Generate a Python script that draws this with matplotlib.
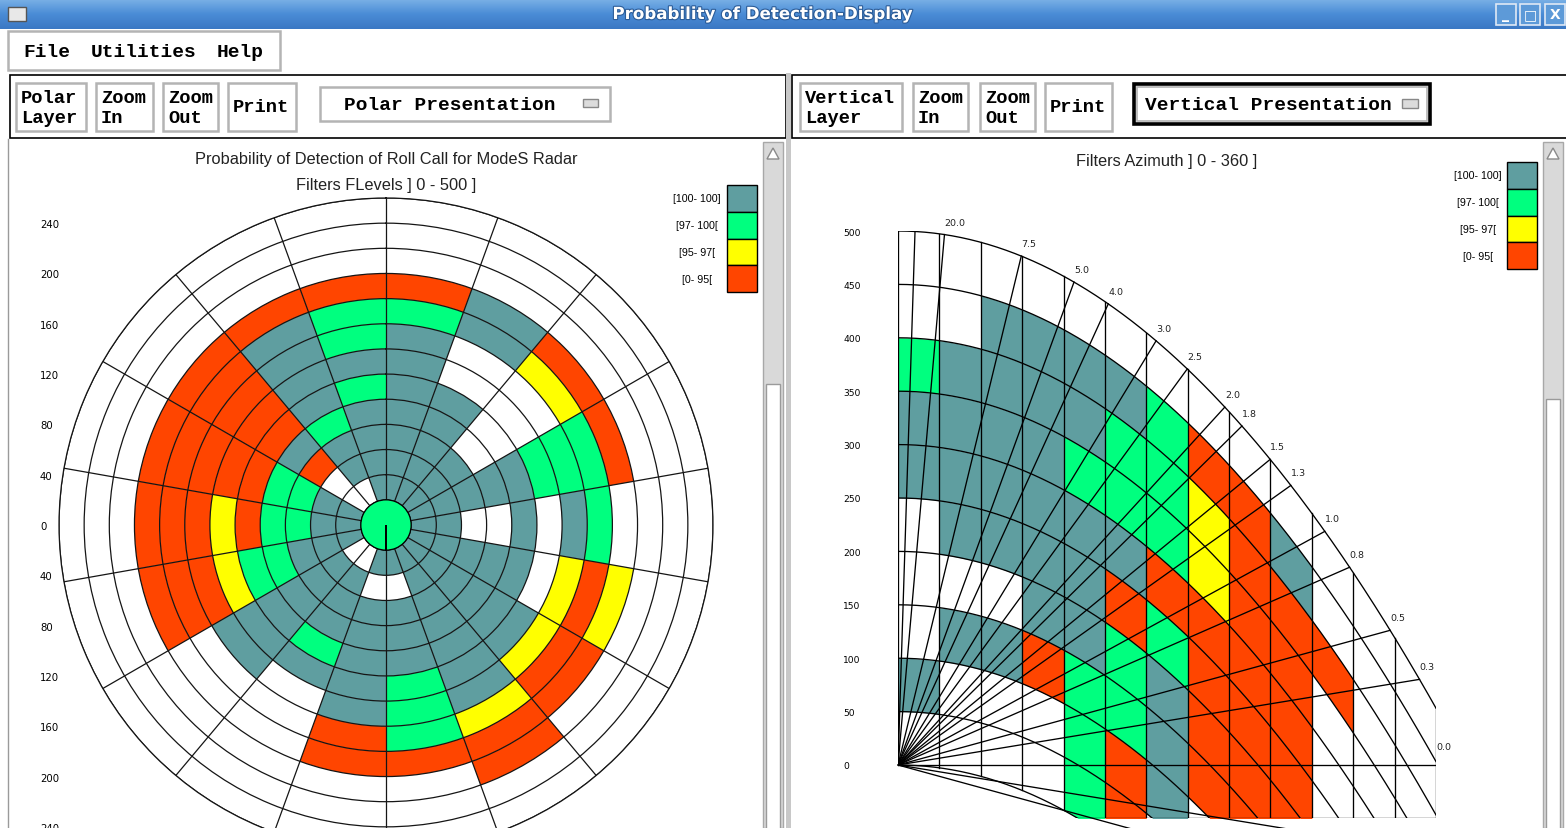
import numpy as np
import matplotlib.pyplot as plt
from matplotlib.patches import Rectangle, Polygon
from matplotlib.colors import LinearSegmentedColormap
import matplotlib.patheffects as pe

plt.rcParams['font.family'] = ['Liberation Sans', 'DejaVu Sans']

W, H = 1566, 829

# ---- data ---------------------------------------------------------------
CLASS_COLORS = {'T': '#5F9EA0', 'G': '#00FF7F', 'Y': '#FFFF00', 'R': '#FF4500'}
legend_codes = ['T', 'G', 'Y', 'R']
legend_labels = ['[100- 100]', '[97- 100[', '[95- 97[', '[0- 95[']

# polar presentation: 18 azimuth sectors (20 deg), rings of 20 NM from 20 to 260 NM
# letters: T=[100-100] G=[97-100[ Y=[95-97[ R=[0-95[ W=no value
sector_start = list(range(0, 360, 20))
ring_start = list(range(20, 260, 20))
polar_cells = [
    "TTTTTTTGRWWW",  # 0
    "TTTTTWWTTWWW",  # 20
    "TTTWWWWYRWWW",  # 40
    "TTTTTGGGRWWW",  # 60
    "TTWWTWTGWWWW",  # 80
    "TTTTTWYRYWWW",  # 100
    "TTTTTTYRRWWW",  # 120
    "TTTTTTTYRRWW",  # 140
    "TWTTTGGGRWWW",  # 160
    "TWTTTTTRRWWW",  # 180
    "WTTTGTWWWWWW",  # 200
    "WTTTTTTWWWWW",  # 220
    "TTTGGYRRRWWW",  # 240
    "TTGGRYRRRWWW",  # 260
    "TTGGRRRRRWWW",  # 280
    "WWRTRRRRRWWW",  # 300
    "WTTGTTTTRWWW",  # 320
    "TTTTGTGGRWWW",  # 340
]
center_code = 'G'
polar_tick_values = [240, 200, 160, 120, 80, 40, 0, -40, -80, -120, -160, -200, -240]

# vertical presentation: range columns of 20 NM, flight level bands of 50 (FL 0 .. 450)
range_start = list(range(0, 260, 20))
flevel_start = list(range(0, 500, 50))
vertical_cells = [
    "WTWWWTTGWW",  # 0-20
    "WWTWTTTTWW",  # 20-40
    "WWTWTTTTTW",  # 40-60
    "WWRTTTTTTW",  # 60-80
    "GGGTTTGTTW",  # 80-100
    "RRGGRTGGTW",  # 100-120
    "WTTTGRGGGW",  # 120-140
    "WWRRRRYYRW",  # 140-160
    "WWRRRRRRRW",  # 160-180
    "WWWRRRRRTW",  # 180-200
    "WWWWWWWRWW",  # 200-220
    "WWWWWWWWWW",  # 220-240
    "WWWWWWWWWW",  # 240-260
]
elevation_angles = [45.0, 20.0, 7.5, 5.0, 4.0, 3.0, 2.5, 2.0, 1.8, 1.5, 1.3, 1.0, 0.8, 0.5, 0.3, 0.0]
elevation_labels = ['', '20.0', '7.5', '5.0', '4.0', '3.0', '2.5', '2.0', '1.8', '1.5', '1.3',
                    '1.0', '0.8', '0.5', '0.3', '0.0']
flevel_ticks = list(range(0, 501, 50))

K_CURV = 1 / 151.3       # earth curvature drop (FL per NM^2, 4/3 earth)
FL_PER_NM = 60.76        # FL per NM per unit tan(elevation)
RMAX = 260


def fig_rect(x0, y0, x1, y1):
    return [x0 / W, 1 - y1 / H, (x1 - x0) / W, (y1 - y0) / H]


fig = plt.figure(figsize=(W / 100, H / 100), dpi=100, facecolor='white')

# ---- window chrome (pixel coordinates) -----------------------------------
ui = fig.add_axes([0, 0, 1, 1], zorder=0)
ui.set_xlim(0, W)
ui.set_ylim(H, 0)
ui.axis('off')

grad = np.linspace(0, 1, 30).reshape(-1, 1)
cmap = LinearSegmentedColormap.from_list('tb', ['#79b0e6', '#4a8cd6', '#3b78c4'])
ui.imshow(grad, extent=(0, W, 30, 0), aspect='auto', cmap=cmap, zorder=0)
ui.text(762, 15, 'Probability of Detection-Display', color='white', fontsize=12,
        fontweight='bold', family='DejaVu Sans', ha='center', va='center',
        path_effects=[pe.Stroke(linewidth=1.6, foreground='#2b5c98'), pe.Normal()])
ui.add_patch(Rectangle((8, 8), 18, 14, fc='#e8e8e8', ec='#555555', lw=1))
for x0, glyph in zip([1496, 1520, 1545], ['_', '\u25a1', 'X']):
    ui.add_patch(Rectangle((x0, 5), 20, 21, fc='#5d9ad8', ec='#dfe9f5', lw=1.2))
    ui.text(x0 + 10, 15, glyph, color='white', fontsize=10, fontweight='bold',
            ha='center', va='center', family='DejaVu Sans')


def raised(x0, y0, x1, y1, ec='#b4b4b4', lw=1.8):
    ui.add_patch(Rectangle((x0, y0), x1 - x0, y1 - y0, fc='white', ec=ec, lw=lw))


mono = dict(family=['Liberation Mono', 'DejaVu Sans Mono'], fontweight='bold',
            fontsize=14, color='black', va='center', ha='left')

# menu bar
raised(8, 32, 280, 71)
for x, word in zip([23, 91, 217], ['File', 'Utilities', 'Help']):
    ui.text(x, 52, word, **mono)

# toolbars
ui.add_patch(Rectangle((10, 76), 776, 63, fc='white', ec='black', lw=1.2))
ui.add_patch(Rectangle((792, 76), 780, 63, fc='white', ec='black', lw=1.2))
buttons = [((16, 84, 86, 132), ['Polar', 'Layer']), ((96, 84, 153, 132), ['Zoom', 'In']),
           ((163, 84, 218, 132), ['Zoom', 'Out']), ((228, 84, 296, 132), ['Print']),
           ((800, 84, 902, 132), ['Vertical', 'Layer']), ((913, 84, 968, 132), ['Zoom', 'In']),
           ((980, 84, 1035, 132), ['Zoom', 'Out']), ((1045, 84, 1112, 132), ['Print'])]
for (x0, y0, x1, y1), lines in buttons:
    raised(x0, y0, x1, y1)
    if len(lines) == 2:
        ui.text(x0 + 5, 98, lines[0], **{**mono, 'fontsize': 13.5})
        ui.text(x0 + 5, 118, lines[1], **{**mono, 'fontsize': 13.5})
    else:
        ui.text(x0 + 5, 107, lines[0], **{**mono, 'fontsize': 13.5})
raised(320, 88, 610, 122)
ui.text(344, 105, 'Polar Presentation', **mono)
ui.add_patch(Rectangle((583, 100), 15, 8, fc='#dcdcdc', ec='#888888', lw=1))
ui.add_patch(Rectangle((1134, 85), 296, 40, fc='white', ec='black', lw=2.6))
ui.add_patch(Rectangle((1137, 88), 290, 34, fc='none', ec='#b4b4b4', lw=1.2))
ui.text(1145, 105, 'Vertical Presentation', **mono)
ui.add_patch(Rectangle((1402, 100), 16, 9, fc='#dcdcdc', ec='#888888', lw=1))

# panel separator and scroll bars
ui.add_patch(Rectangle((786, 74), 5, H - 74, fc='#c8c8c8', ec='none'))
ui.plot([8, 8], [140, H], color='#9a9a9a', lw=1)
for sx, thumb in [(763, 385), (1543, 400)]:
    ui.add_patch(Rectangle((sx, 143), 20, H - 143, fc='#d9d9d9', ec='#a8a8a8', lw=1))
    ui.add_patch(Rectangle((sx + 3, thumb), 14, H - thumb + 5, fc='white', ec='#9a9a9a', lw=1))
    ui.add_patch(Polygon([[sx + 4, 160], [sx + 16, 160], [sx + 10, 149]], closed=True,
                         fc='white', ec='#8a8a8a', lw=1))

# chart titles
title_kw = dict(fontsize=11.8, ha='center', va='center', color='#222222')
ui.text(386, 159, 'Probability of Detection of Roll Call for ModeS Radar', **title_kw)
ui.text(386, 185, 'Filters FLevels ] 0 - 500 ]', **title_kw)
ui.text(1167, 161, 'Filters Azimuth ] 0 - 360 ]', **title_kw)

# legends
for (bx, by, lx), hgt in [((727, 186, 697), 26.8), ((1507, 163, 1478), 26.8)]:
    for i, (code, lab) in enumerate(zip(legend_codes, legend_labels)):
        y0 = by + i * hgt
        ui.add_patch(Rectangle((bx, y0), 30, hgt, fc=CLASS_COLORS[code], ec='black', lw=1))
        ui.text(lx, y0 + hgt / 2, lab, fontsize=7.7, ha='center', va='center')

# ---- polar presentation --------------------------------------------------
cx, cy, rad = 386, 526, 327
prect = fig_rect(cx - rad, cy - rad, cx + rad, cy + rad)
axp = fig.add_axes(prect, projection='polar', zorder=2)
axp.set_theta_zero_location('N')
axp.set_theta_direction(-1)
for s0, row in zip(sector_start, polar_cells):
    for r0, code in zip(ring_start, row):
        if code == 'W':
            continue
        axp.bar(np.radians(s0 + 10), 20, width=np.radians(20), bottom=r0,
                color=CLASS_COLORS[code], edgecolor='none', linewidth=0)
axp.bar(0, ring_start[0], width=2 * np.pi, bottom=0, color=CLASS_COLORS[center_code],
        edgecolor='black', linewidth=0.9, zorder=4)
axp.set_ylim(0, RMAX)
axp.set_yticks(list(range(20, RMAX + 1, 20)))
axp.set_yticklabels([])
axp.set_xticks(np.radians(sector_start))
axp.set_xticklabels([])
axp.set_axisbelow(False)
axp.grid(True, color='#151515', lw=0.9)
axp.spines['polar'].set_color('#151515')
axp.spines['polar'].set_linewidth(0.9)

# vertical scale of the polar view (NM)
axl = fig.add_axes(prect, zorder=1)
axl.set_xlim(-RMAX, RMAX)
axl.set_ylim(-RMAX, RMAX)
axl.patch.set_alpha(0)
for sp in axl.spines.values():
    sp.set_visible(False)
axl.set_xticks([])
axl.set_yticks(polar_tick_values)
axl.set_yticklabels([str(abs(v)) for v in polar_tick_values], family='DejaVu Sans')
axl.tick_params(axis='y', length=0, pad=13.7, labelsize=7.3)
for t in axl.get_yticklabels():
    t.set_horizontalalignment('left')

# ---- vertical presentation -----------------------------------------------
axv = fig.add_axes(fig_rect(898, 232, 1436, 819.4), zorder=2)
axv.set_xlim(0, RMAX)
axv.set_ylim(-50, 500)
axv.patch.set_alpha(0)
for sp in axv.spines.values():
    sp.set_visible(False)


def drop(d):
    return K_CURV * np.asarray(d) ** 2


for d0, col in zip(range_start, vertical_cells):
    dd = np.linspace(d0, d0 + 20, 40)
    for f0, code in zip(flevel_start, col):
        if code == 'W':
            continue
        axv.fill_between(dd, f0 - drop(dd), f0 + 50 - drop(dd), color=CLASS_COLORS[code],
                         linewidth=0, zorder=1)

line_kw = dict(color='black', lw=0.95, zorder=3)
dfull = np.linspace(0, RMAX, 300)
for f in flevel_ticks:
    axv.plot(dfull, f - drop(dfull), **line_kw)
for d0 in range_start + [RMAX]:
    lo = 0 if d0 == 0 else max(-50, -drop(d0))
    axv.plot([d0, d0], [lo, 500 - drop(d0)], **line_kw)
d_bottom = np.sqrt(50 / K_CURV)
axv.plot([d_bottom, RMAX], [-50, -50], **line_kw)

for ang, lab in zip(elevation_angles, elevation_labels):
    s = FL_PER_NM * np.tan(np.radians(ang))
    if ang == 0:
        d_end = RMAX
    else:
        d_end = min(RMAX, (-s + np.sqrt(s * s + 4 * K_CURV * 500)) / (2 * K_CURV))
    axv.plot([0, d_end], [0, s * d_end], **line_kw)
    if lab:
        dy = 13 if ang == 0 else 9
        axv.annotate(lab, (d_end, s * d_end), xytext=(0, dy), textcoords='offset points',
                     ha='left', va='center', fontsize=6.8, color='#222222',
                     family='DejaVu Sans')
for ang, d_end in [(-0.5, 117), (-0.3, 200)]:
    s = FL_PER_NM * np.tan(np.radians(ang))
    axv.plot([0, d_end], [0, s * d_end], clip_on=False, **line_kw)

axv.set_xticks([])
axv.set_yticks(flevel_ticks)
axv.set_yticklabels([str(v) for v in flevel_ticks], family='DejaVu Sans')
axv.tick_params(axis='y', length=0, pad=39.6, labelsize=6.6)
for t in axv.get_yticklabels():
    t.set_horizontalalignment('left')

fig.savefig('out.png', dpi=100, facecolor='white')
